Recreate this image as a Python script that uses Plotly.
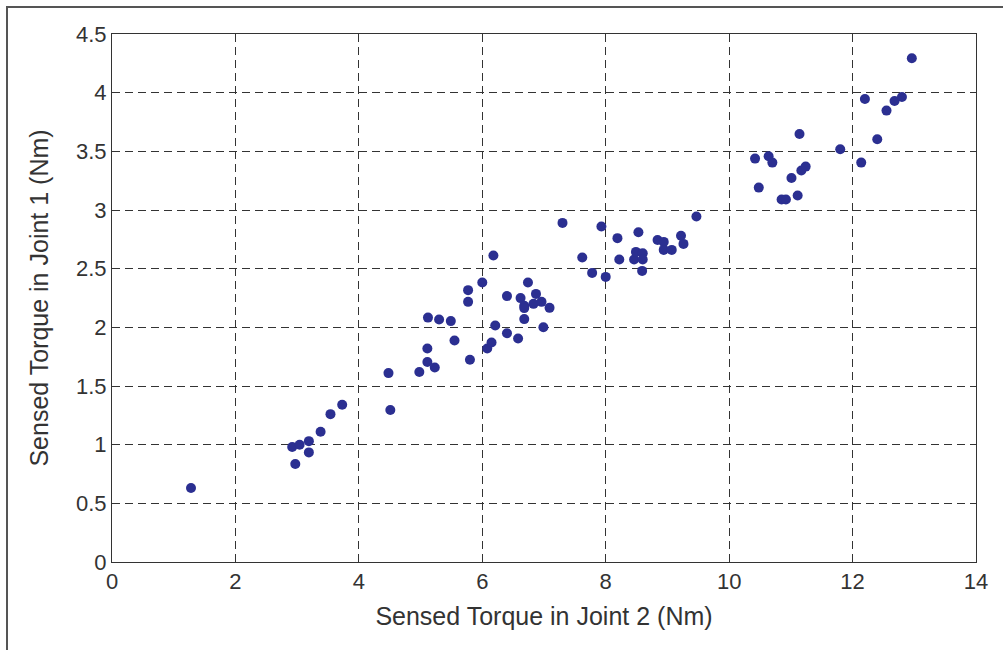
import plotly.graph_objects as go

joint2 = [1.28, 2.92, 3.04, 3.19, 2.97, 3.19, 3.38, 3.54, 3.73, 4.48, 4.51, 4.98, 5.11, 5.11, 5.12,
          5.23, 5.30, 5.49, 5.55, 5.77, 5.77, 5.80, 6.00, 6.08, 6.15, 6.18, 6.21, 6.40, 6.40, 6.58,
          6.62, 6.68, 6.68, 6.68, 6.74, 6.83, 6.87, 6.96, 6.99, 7.09,
          7.30, 7.62, 7.78, 7.93, 8.00, 8.19, 8.22, 8.46, 8.49, 8.53, 8.59, 8.60, 8.60, 8.84, 8.94,
          8.94, 9.07, 9.22, 9.26, 9.47,
          10.42, 10.48, 10.64, 10.70, 10.85, 10.92, 11.01, 11.11, 11.14, 11.17, 11.24, 11.80, 12.14,
          12.20, 12.40, 12.55, 12.68, 12.80, 12.96]
joint1 = [0.63, 0.98, 1.00, 1.03, 0.835, 0.934, 1.11, 1.26, 1.34, 1.61, 1.295, 1.62, 1.705, 1.82, 2.083,
          1.658, 2.067, 2.053, 1.888, 2.317, 2.217, 1.723, 2.382, 1.82, 1.871, 2.612, 2.015, 2.266, 1.95, 1.905,
          2.249, 2.183, 2.164, 2.07, 2.382, 2.20, 2.285, 2.217, 2.0, 2.166,
          2.89, 2.595, 2.464, 2.859, 2.43, 2.76, 2.578, 2.578, 2.643, 2.81, 2.481, 2.632, 2.578, 2.745, 2.728,
          2.66, 2.66, 2.78, 2.711, 2.944,
          3.438, 3.191, 3.458, 3.404, 3.089, 3.089, 3.273, 3.123, 3.648, 3.336, 3.37, 3.518, 3.404,
          3.946, 3.603, 3.847, 3.929, 3.963, 4.293]

x_title = "Sensed Torque in Joint 2 (Nm)"
y_title = "Sensed Torque in Joint 1 (Nm)"
x_ticks = [0, 2, 4, 6, 8, 10, 12, 14]
y_ticks = [0, 0.5, 1, 1.5, 2, 2.5, 3, 3.5, 4, 4.5]

fig = go.Figure(go.Scatter(
    x=joint2, y=joint1, mode="markers",
    marker=dict(color="#2b2f91", size=10, line=dict(width=0)),
))

font = "Liberation Sans, Arial, sans-serif"
axis_common = dict(
    showgrid=True, gridcolor="#333333", gridwidth=1, griddash="8px,5px",
    showline=True, linecolor="#333333", linewidth=1, mirror="ticks",
    ticks="inside", ticklen=6, tickcolor="#333333",
    zeroline=False, tickfont=dict(family=font, size=22, color="#333333"),
)

fig.update_layout(
    width=1003, height=650,
    margin=dict(l=112, r=27, t=34, b=88),
    paper_bgcolor="white", plot_bgcolor="white",
    showlegend=False,
    font=dict(family=font, color="#333333"),
    xaxis=dict(range=[0, 14], tickvals=x_ticks, ticktext=[str(v) for v in x_ticks],
               title=dict(text=x_title, font=dict(family=font, size=25, color="#333333"), standoff=14),
               **axis_common),
    yaxis=dict(range=[0, 4.5], tickvals=y_ticks, ticktext=[f"{v:g}" for v in y_ticks],
               title=dict(text=y_title, font=dict(family=font, size=25, color="#333333"), standoff=20),
               **axis_common),
    shapes=[dict(type="rect", xref="paper", yref="paper",
                 x0=(7 - 112) / 864, y0=-0.3, x1=1.2, y1=(562 - 7) / 528,
                 line=dict(color="#555555", width=2), fillcolor="rgba(0,0,0,0)", layer="below")],
)

fig.write_html("out.html")
